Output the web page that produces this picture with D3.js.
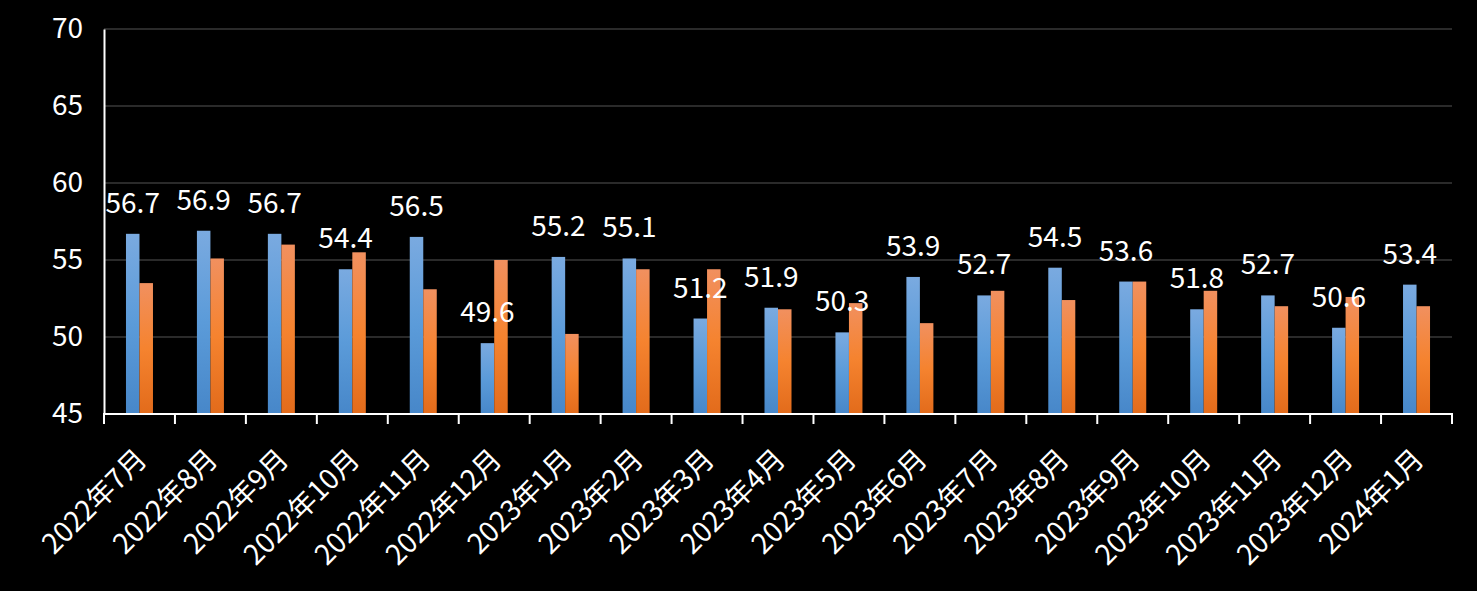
<!DOCTYPE html>
<html>
<head>
<meta charset="utf-8">
<script src="https://cdn.jsdelivr.net/npm/d3@7"></script>
<style>
  html, body { margin: 0; padding: 0; background: #000; }
  svg { display: block; }
  text { font-family: "Noto Sans CJK SC", "Noto Sans", sans-serif; fill: #fff; }
</style>
</head>
<body>
<svg id="chart" width="1477" height="591"></svg>
<script>
const categories = ["2022年7月","2022年8月","2022年9月","2022年10月","2022年11月","2022年12月",
  "2023年1月","2023年2月","2023年3月","2023年4月","2023年5月","2023年6月","2023年7月",
  "2023年8月","2023年9月","2023年10月","2023年11月","2023年12月","2024年1月"];
const seriesA = [56.7,56.9,56.7,54.4,56.5,49.6,55.2,55.1,51.2,51.9,50.3,53.9,52.7,54.5,53.6,51.8,52.7,50.6,53.4];
const seriesB = [53.5,55.1,56.0,55.5,53.1,55.0,50.2,54.4,54.4,51.8,52.2,50.9,53.0,52.4,53.6,53.0,52.0,52.6,52.0];
const yTicks = [45,50,55,60,65,70];

const svg = d3.select("#chart");
const W = 1477, H = 591;
const mLeft = 104, mRight = 1452, mTop = 29, mBottom = 414;

svg.append("rect").attr("width", W).attr("height", H).attr("fill", "#000");

const defs = svg.append("defs");
function grad(id, stops) {
  const g = defs.append("linearGradient").attr("id", id)
    .attr("x1", 0).attr("y1", 0).attr("x2", 0).attr("y2", 1);
  stops.forEach(s => g.append("stop").attr("offset", s[0]).attr("stop-color", s[1]));
}
grad("gBlue", [[0, "#7aaae0"], [0.5, "#5b9bd9"], [1, "#4787c9"]]);
grad("gOrange", [[0, "#f1905f"], [0.5, "#f5832f"], [1, "#e26b1b"]]);

const x = d3.scaleBand().domain(categories).range([mLeft, mRight]).padding(0);
const y = d3.scaleLinear().domain([45, 70]).range([mBottom, mTop]);
const pairW = 27;
const x1 = d3.scaleBand().domain(["A", "B"]).range([0, pairW]).padding(0);

// gridlines
svg.append("g").selectAll("line").data(yTicks.filter(t => t > 45)).join("line")
  .attr("x1", mLeft).attr("x2", mRight)
  .attr("y1", d => y(d)).attr("y2", d => y(d))
  .attr("stroke", "#2a2a2a").attr("stroke-width", 2);

// bars
const data = categories.map((c, i) => ({c, a: seriesA[i], b: seriesB[i]}));
const g = svg.append("g");
g.selectAll(".ba").data(data).join("rect")
  .attr("x", d => x(d.c) + x.bandwidth() / 2 - pairW / 2 + x1("A"))
  .attr("width", x1.bandwidth())
  .attr("y", d => y(d.a)).attr("height", d => y(45) - y(d.a))
  .attr("fill", "url(#gBlue)");
g.selectAll(".bb").data(data).join("rect")
  .attr("x", d => x(d.c) + x.bandwidth() / 2 - pairW / 2 + x1("B"))
  .attr("width", x1.bandwidth())
  .attr("y", d => y(d.b)).attr("height", d => y(45) - y(d.b))
  .attr("fill", "url(#gOrange)");

// data labels (series A)
g.selectAll(".lbl").data(data).join("text")
  .attr("x", d => x(d.c) + x.bandwidth() / 2 - pairW / 2 + x1("A") + x1.bandwidth() / 2)
  .attr("y", d => y(d.a) - 21)
  .attr("text-anchor", "middle")
  .attr("font-size", 28)
  .text(d => d.a.toFixed(1));

// y axis
const yAxis = d3.axisLeft(y).tickValues(yTicks).tickSize(0).tickPadding(21).tickFormat(d3.format("d"));
const ya = svg.append("g").attr("transform", `translate(${mLeft},0)`).call(yAxis);
ya.select(".domain").attr("stroke", "#fff").attr("stroke-width", 2);
ya.selectAll("text").attr("font-size", 28).attr("fill", "#fff")
  .attr("font-family", '"Noto Sans CJK SC", sans-serif');

// x axis
const xa = svg.append("g").attr("transform", `translate(0,${mBottom})`);
xa.append("line").attr("x1", mLeft - 1).attr("x2", mRight + 1).attr("y1", 0).attr("y2", 0)
  .attr("stroke", "#fff").attr("stroke-width", 2);
const bounds = categories.map(c => x(c)).concat([mRight]);
xa.selectAll(".tk").data(bounds).join("line")
  .attr("x1", d => d).attr("x2", d => d).attr("y1", 0).attr("y2", 10)
  .attr("stroke", "#fff").attr("stroke-width", 2);
xa.selectAll(".xl").data(categories).join("text")
  .attr("transform", d => `translate(${x(d) + x.bandwidth() / 2 + 9},47) rotate(-45)`)
  .attr("text-anchor", "end")
  .attr("font-size", 28)
  .text(d => d);
</script>
</body>
</html>
